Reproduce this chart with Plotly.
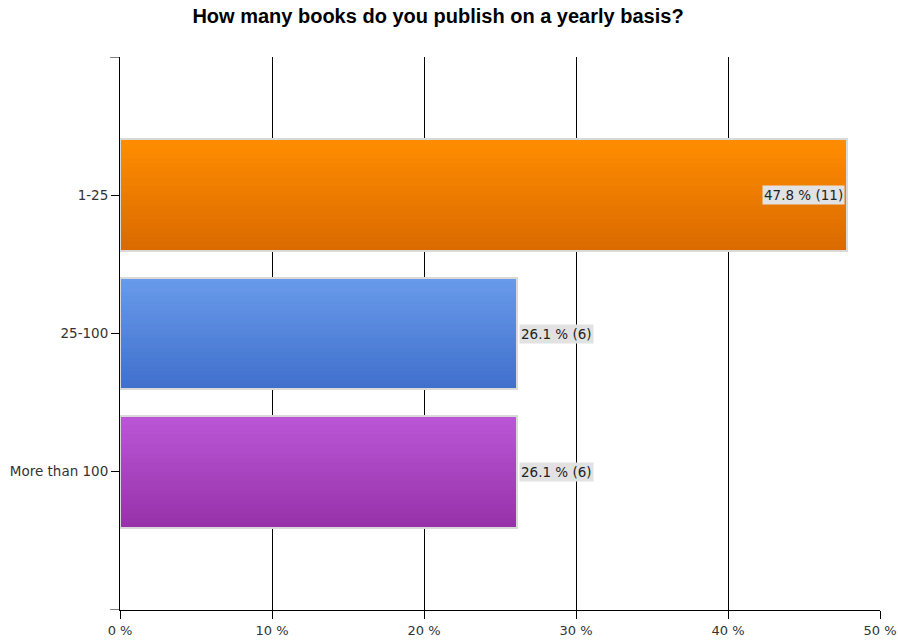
import plotly.graph_objects as go

title = "How many books do you publish on a yearly basis?"
categories = ["1-25", "25-100", "More than 100"]
percents = [47.8, 26.1, 26.1]
counts = [11, 6, 6]
top_colors = [(255, 140, 0), (104, 154, 234), (186, 86, 214)]
bottom_colors = [(218, 106, 0), (64, 112, 204), (152, 50, 170)]
x_ticks = [0, 10, 20, 30, 40, 50]
x_ticktext = ["0 %", "10 %", "20 %", "30 %", "40 %", "50 %"]

BAR_W = 0.81
N_SLICES = 24
FONT = "DejaVu Sans, Verdana, sans-serif"
W, H = 898, 640

fig = go.Figure()

def lerp(a, b, t):
    return "rgb(%d,%d,%d)" % tuple(round(a[i] + (b[i] - a[i]) * t) for i in range(3))

sw = BAR_W / N_SLICES
for k in range(N_SLICES):
    t = k / (N_SLICES - 1)
    fig.add_trace(go.Bar(
        x=percents, y=categories, orientation="h",
        offset=-BAR_W / 2 + k * sw, width=sw * 1.15,
        marker=dict(color=[lerp(top_colors[i], bottom_colors[i], t) for i in range(3)],
                    line=dict(width=0)),
        showlegend=False, hoverinfo="skip",
    ))

# outline
fig.add_trace(go.Bar(
    x=percents, y=categories, orientation="h",
    offset=-BAR_W / 2, width=BAR_W,
    marker=dict(color="rgba(0,0,0,0)", line=dict(color="#d9d9d9", width=2)),
    showlegend=False,
    hovertemplate="%{y}: %{x} %<extra></extra>",
))

for i, (cat, p, c) in enumerate(zip(categories, percents, counts)):
    inside = p > 40
    fig.add_annotation(
        x=p, y=cat, xref="x", yref="y",
        text=f"{p:.1f} % ({c})", showarrow=False,
        xanchor="right" if inside else "left",
        xshift=-2 if inside else 2,
        bgcolor="#e2e2e2",
        font=dict(family=FONT, size=13.5, color="#222"),
        borderpad=1,
    )

# extra ticks at top/bottom of y axis
for yv in [-1, 3]:
    fig.add_shape(type="line", xref="x domain", yref="y",
                  x0=-0.013, x1=0, y0=yv, y1=yv,
                  line=dict(color="black", width=1))

fig.update_layout(
    width=W, height=H,
    paper_bgcolor="white", plot_bgcolor="white",
    margin=dict(l=120, r=18, t=57, b=30, autoexpand=False),
    bargap=0, barmode="overlay",
    title=dict(text="<b>" + title + "</b>", x=438 / W, xanchor="center",
               yref="container", y=1 - 16 / H, yanchor="middle",
               font=dict(family="Liberation Sans, Arial, sans-serif", size=20, color="black")),
    font=dict(family=FONT, size=13.5, color="#333"),
)

fig.update_xaxes(
    range=[0, 50], tickvals=x_ticks, ticktext=x_ticktext,
    tickfont=dict(size=13),
    showgrid=True, gridcolor="black", gridwidth=1,
    showline=True, linecolor="black", linewidth=1,
    ticks="outside", ticklen=8, tickcolor="black",
    zeroline=False, fixedrange=True, automargin=False,
)
fig.update_yaxes(
    type="category", categoryorder="array", categoryarray=categories,
    range=[3, -1],
    showgrid=False, showline=True, linecolor="black", linewidth=1,
    ticks="outside", ticklen=8, tickcolor="black",
    zeroline=False, fixedrange=True, automargin=False,
)

fig.write_html("out.html",
               config={"displayModeBar": False},
               post_script="document.body.style.margin='0';document.body.style.overflow='hidden';")
